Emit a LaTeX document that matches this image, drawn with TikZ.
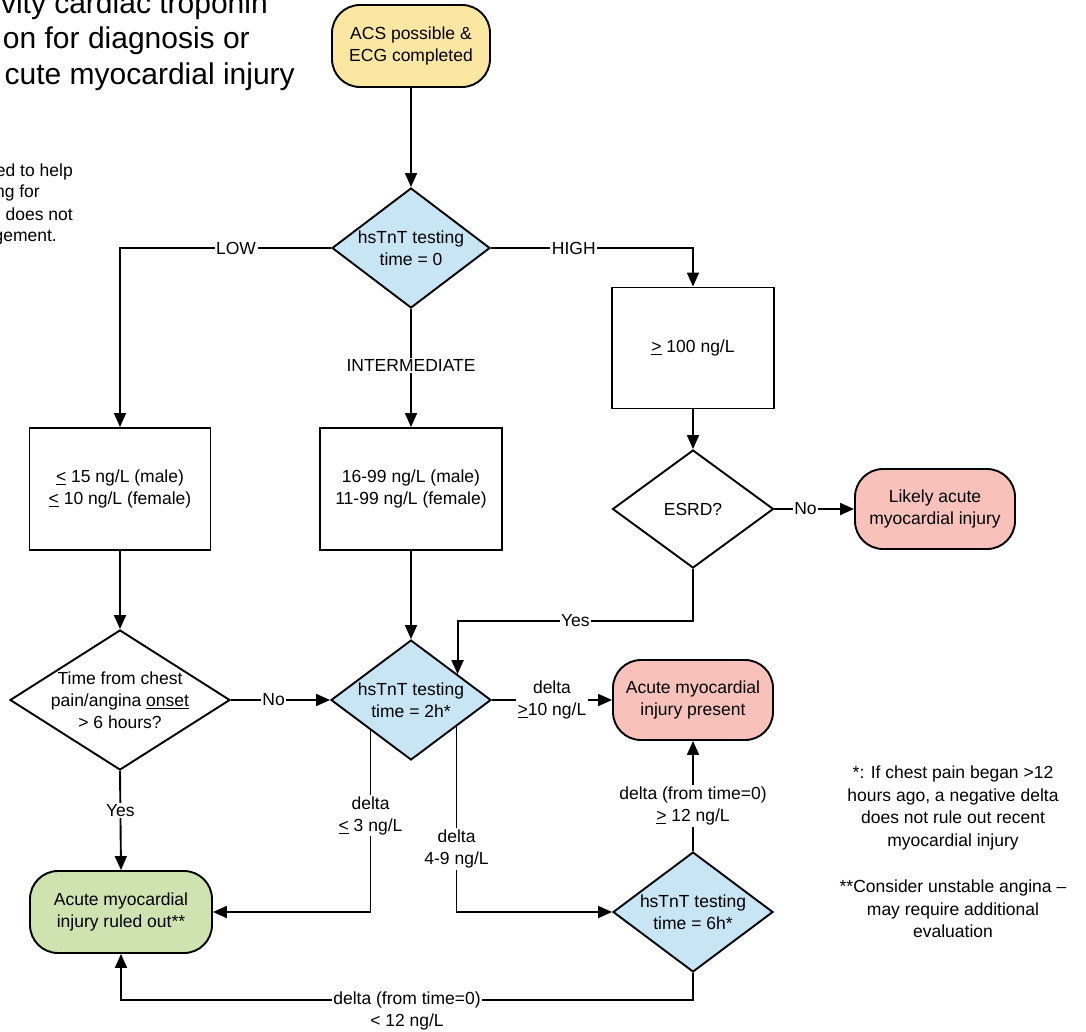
\documentclass[tikz,border=0pt]{standalone}
\usepackage{fontspec}
\setmainfont{Liberation Sans}
\usetikzlibrary{shapes.geometric,arrows.meta,calc}
\definecolor{cyel}{HTML}{FBE7A1}
\definecolor{cblue}{HTML}{C8E5F5}
\definecolor{cpink}{HTML}{F8C2BB}
\definecolor{cgreen}{HTML}{CFE3B0}
\newcommand{\nodefont}{\fontsize{17.5}{22}\selectfont}
\newcommand{\notefont}{\fontsize{17.5}{22.5}\selectfont}
\newcommand{\titlefont}{\fontsize{30}{35}\selectfont}
\begin{document}
\begin{tikzpicture}[x=1pt,y=-1pt,
  base/.style={draw=black, line width=1.9pt, font=\nodefont, align=center, inner sep=0pt},
  term/.style={base, rectangle, rounded corners=28pt},
  boxnode/.style={base, rectangle, fill=white},
  dia/.style={base, diamond, fill=cblue},
  intext/.style={font=\nodefont, align=center, inner sep=0pt},
  arr/.style={line width=1.9pt, -{Triangle[length=14pt,width=12pt]}},
  lbl/.style={fill=white, font=\nodefont, inner sep=1.5pt, align=center}]
\useasboundingbox (0,0) rectangle (1086,1032);

% title fragments
\node[anchor=base east, font=\titlefont, inner sep=0pt] (t1) at (268,14) {vity cardiac troponin};
\node[anchor=base east, font=\titlefont, inner sep=0pt] (t2) at (250,49) {on for diagnosis or};
\node[anchor=base east, font=\titlefont, inner sep=0pt] (t3) at (295,85) {cute myocardial injury};
% left note fragments
\node[anchor=base east, font=\nodefont, inner sep=0pt] (s1) at (73,177) {ed to help};
\node[anchor=base east, font=\nodefont, inner sep=0pt] (s2) at (40,198) {ng for};
\node[anchor=base east, font=\nodefont, inner sep=0pt] (s3) at (73,221) {does not};
\node[anchor=base east, font=\nodefont, inner sep=0pt] (s4) at (57,242) {gement.};

% nodes
\node[term, fill=cyel, minimum width=158pt, minimum height=82pt] (start) at (411,46) {ACS possible \&\\ECG completed};
\node[dia, minimum width=158pt, minimum height=120pt,
  label={[intext]center:{hsTnT testing\\time = 0}}] (d0) at (411,248) {};
\node[boxnode, minimum width=181pt, minimum height=122pt] (blow) at (120,489)
  {\underline{<} 15 ng/L (male)\\\underline{<} 10 ng/L (female)};
\node[boxnode, minimum width=182pt, minimum height=122pt] (bmid) at (411,489)
  {16-99 ng/L (male)\\11-99 ng/L (female)};
\node[boxnode, minimum width=162pt, minimum height=121pt] (bhigh) at (693,348) {\underline{>} 100 ng/L};
\node[dia, fill=white, minimum width=161pt, minimum height=118pt,
  label={[intext]center:{ESRD?}}] (esrd) at (693,509) {};
\node[term, fill=cpink, minimum width=160pt, minimum height=80pt] (likely) at (935,509) {Likely acute\\myocardial injury};
\node[dia, fill=white, minimum width=220pt, minimum height=140pt,
  label={[intext]center:{Time from chest\\pain/angina \underline{onset}\\> 6 hours?}}] (dtime) at (120,700) {};
\node[dia, minimum width=160pt, minimum height=120pt,
  label={[intext]center:{hsTnT testing\\time = 2h*}}] (d2) at (411,700) {};
\node[term, fill=cpink, minimum width=160pt, minimum height=80pt] (present) at (693,700) {Acute myocardial\\injury present};
\node[dia, minimum width=160pt, minimum height=120pt,
  label={[intext]center:{hsTnT testing\\time = 6h*}}] (d6) at (693,912) {};
\node[term, fill=cgreen, minimum width=182pt, minimum height=82pt] (ruled) at (121,912) {Acute myocardial\\injury ruled out**};

% notes
\node[font=\notefont, align=center] (n1) at (953,808) {*: If chest pain began >12\\hours ago, a negative delta\\does not rule out recent\\myocardial injury};
\node[font=\notefont, align=center] (n2) at (953,909) {**Consider unstable angina –\\may require additional\\evaluation};

% connectors
\draw[arr] (start.south) -- (d0.north);
\draw[arr] (d0.west) -- node[lbl,pos=0.45]{LOW} (d0.west -| blow.north) -- (blow.north);
\draw[arr] (d0.east) -- node[lbl,pos=0.41]{HIGH} (d0.east -| bhigh.north) -- (bhigh.north);
\draw[arr] (d0.south) -- node[lbl,pos=0.48]{INTERMEDIATE} (bmid.north);
\draw[arr] (blow.south) -- (dtime.north);
\draw[arr] (bmid.south) -- (d2.north);
\draw[arr] (bhigh.south) -- (esrd.north);
\draw[arr] (esrd.east) -- node[lbl,pos=0.39]{No} (likely.west);
\coordinate (d2ne) at ($(d2.north)!0.575!(d2.east)$);
\coordinate (yesrow) at (0,621);
\draw[arr] (esrd.south) -- (esrd.south |- yesrow) -- node[lbl]{Yes} (d2ne |- yesrow) -- (d2ne);
\draw[arr] (dtime.east) -- node[lbl,pos=0.43]{No} (d2.west);
\draw[arr] (dtime.south) -- node[lbl,pos=0.40]{Yes} (ruled.north);
\draw[arr] (d2.east) -- node[lbl]{delta\\\underline{>}10 ng/L} (present.west);
\coordinate (d2sw) at ($(d2.south)!0.5!(d2.west)$);
\coordinate (d2se) at ($(d2.south)!0.5625!(d2.east)$);
\draw[arr] (d2sw) -- node[lbl,pos=0.47]{delta\\\underline{<} 3 ng/L} (d2sw |- ruled.east) -- (ruled.east);
\draw[arr] (d2se) -- node[lbl,pos=0.66]{delta\\4-9 ng/L} (d2se |- d6.west) -- (d6.west);
\draw[arr] (d6.north) -- node[lbl,pos=0.41]{delta (from time=0)\\\underline{>} 12 ng/L} (present.south);
\coordinate (botrow) at (0,1000);
\draw[arr] (d6.south) -- (d6.south |- botrow) -- node[lbl,yshift=-11pt]{delta (from time=0)\\< 12 ng/L} (ruled.south |- botrow) -- (ruled.south);
\end{tikzpicture}
\end{document}
